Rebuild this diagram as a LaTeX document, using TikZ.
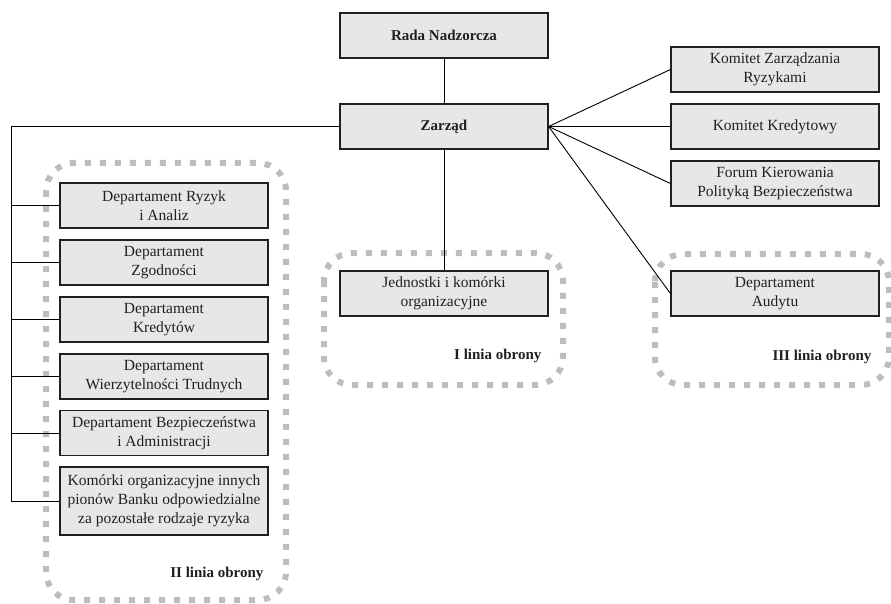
\documentclass[tikz,border=0pt]{standalone}
\usepackage{fontspec}
\setmainfont{Liberation Serif}
\usepackage{tikz}
\usetikzlibrary{calc}
\usetikzlibrary{positioning}
\definecolor{boxfill}{RGB}{230, 231, 232}
\definecolor{boxline}{RGB}{35, 31, 32}
\definecolor{dotgray}{RGB}{188, 189, 191}

\tikzset{
  orgbox/.style   = {draw=boxline, fill=boxfill, line width=1.2pt, minimum width=208pt,
                     minimum height=45pt, inner sep=2pt, align=center, text=boxline,
                     font=\fontsize{15.5}{19}\selectfont},
  headbox/.style  = {orgbox, font=\fontsize{15}{18}\selectfont\bfseries},
  defline/.style  = {draw=dotgray, line width=6pt, dash pattern=on 6pt off 9pt, rounded corners=28pt},
  deflabel/.style = {anchor=base east, text=boxline, font=\fontsize{15}{18}\selectfont\bfseries},
  link/.style     = {draw=black, line width=0.9pt}
}

\begin{document}
\begin{tikzpicture}[x=1pt, y=-1pt]
            % Frame to fix the page:
            \useasboundingbox (0, 0) rectangle (891, 604);
            % Lines of defence:
            \draw[defline] ( 46, 163) rectangle (286, 600);
            \draw[defline] (324, 253) rectangle (563, 385);
            \draw[defline] (655, 254) rectangle (889, 385);
            \node[deflabel] (l1) at (545, 359) {I linia obrony};
            \node[deflabel] (l2) at (267, 577) {II linia obrony};
            \node[deflabel] (l3) at (875, 360) {III linia obrony};
            % Board:
            \node[headbox] (rada)   at (444,  35.5) {Rada Nadzorcza};
            \node[headbox] (zarzad) at (444, 126.5) {Zarząd};
            \node[orgbox]  (jedn)   at (444, 293.5) {Jednostki i komórki\\organizacyjne};
            % Second line:
            \node[orgbox] (d1) at (164, 205.5) {Departament Ryzyk\\i Analiz};
            \node[orgbox] (d2) at (164, 262.5) {Departament\\Zgodności};
            \node[orgbox] (d3) at (164, 319.5) {Departament\\Kredytów};
            \node[orgbox] (d4) at (164, 376.5) {Departament\\Wierzytelności Trudnych};
            \node[orgbox] (d5) at (164, 433.0) {Departament Bezpieczeństwa\\i Administracji};
            \node[orgbox, minimum height=68pt] (d6) at (164, 501.0)
                 {Komórki organizacyjne innych\\pionów Banku odpowiedzialne\\za pozostałe rodzaje ryzyka};
            % Committees and audit:
            \node[orgbox] (kzr) at (775,  69.5) {Komitet Zarządzania\\Ryzykami};
            \node[orgbox] (kk)  at (775, 126.5) {Komitet Kredytowy};
            \node[orgbox] (fk)  at (775, 183.5) {Forum Kierowania\\Polityką Bezpieczeństwa};
            \node[orgbox] (da)  at (775, 293.5) {Departament\\Audytu};
            % Connectors:
            \coordinate (bus) at (11, 126.5);
            \draw[link] (rada) -- (zarzad);
            \draw[link] (zarzad) -- (jedn);
            \draw[link] (zarzad.west) -- (bus) |- (d6.west);
            \foreach \i in {1,...,5}
                 \draw[link] (d\i.west) -- (d\i.west -| bus);
            \foreach \n in {kzr, kk, fk, da}
                 \draw[link] (zarzad.east) -- (\n.west);
        \end{tikzpicture}
\end{document}
